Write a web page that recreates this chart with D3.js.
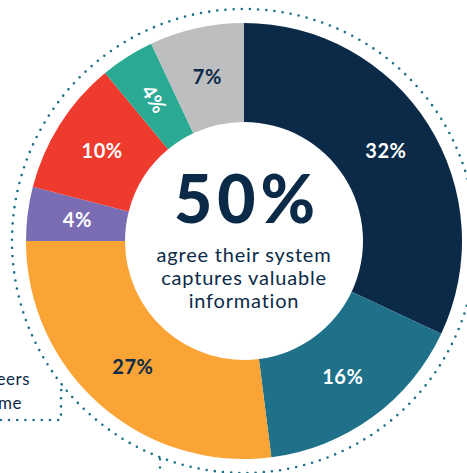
<!DOCTYPE html>
<html>
<head>
<meta charset="utf-8">
<script src="https://cdn.jsdelivr.net/npm/d3@7"></script>
<style>
  html, body { margin: 0; padding: 0; background: #fff; }
  svg { display: block; font-family: Lato, "Open Sans", sans-serif; }
</style>
</head>
<body>
<script>
//chart data
var values = [32, 16, 27, 4, 10, 4, 7];
var labels = ["32%", "16%", "27%", "4%", "10%", "4%", "7%"];
var colors = ["#0b2a47", "#1e7189", "#f9a435", "#7b6db3", "#ef3a2e", "#2aa993", "#bdbec0"];
var labelColors = ["#fff", "#fff", "#0b2a47", "#fff", "#fff", "#fff", "#0b2a47"];
var rotated = [false, false, false, false, false, true, false];
var centerBig = "50%";
var centerLines = ["agree their system", "captures valuable", "information"];
var sideLines = ["eers", "me"];

var width = 467,
	height = 473;

var cx = 244, cy = 241,
	outerR = 218, innerR = 119,
	ringR = 232;

var navy = "#0b2a47",
	dotColor = "#1e6f86";

var svg = d3.select("body")
	.append("svg")
	.attr("width", width)
	.attr("height", height);

//dotted line style
var dotted = function(sel){
	return sel.attr("fill", "none")
		.attr("stroke", dotColor)
		.attr("stroke-width", 2.6)
		.attr("stroke-linecap", "round")
		.attr("stroke-dasharray", "0 8.2");
};

//bracket on the left, meeting the ring
var leftX = cx - Math.sqrt(ringR * ringR - Math.pow(390 - cy, 2));
svg.append("path")
	.attr("d", d3.line()([[leftX - 5, 390], [61, 397], [61, 420], [0, 420]]))
	.call(dotted);

//drop line at the bottom
var bottomY = cy + Math.sqrt(ringR * ringR - Math.pow(160 - cx, 2));
svg.append("path")
	.attr("d", d3.line()([[160, bottomY + 2], [160, height + 4]]))
	.call(dotted);

//dotted outer ring
svg.append("circle")
	.attr("cx", cx)
	.attr("cy", cy)
	.attr("r", ringR)
	.call(dotted);

var g = svg.append("g")
	.attr("transform", "translate(" + cx + "," + cy + ")");

var pie = d3.pie().sort(null).value(function(d){ return d; });
var arcs = pie(values);

var arc = d3.arc()
	.innerRadius(innerR)
	.outerRadius(outerR);

var labelArc = d3.arc()
	.innerRadius(168)
	.outerRadius(168);

g.selectAll(".slice")
	.data(arcs)
	.enter()
	.append("path")
	.attr("class", "slice")
	.attr("d", arc)
	.attr("fill", function(d, i){ return colors[i]; });

g.selectAll(".lbl")
	.data(arcs)
	.enter()
	.append("text")
	.attr("class", "lbl")
	.attr("transform", function(d, i){
		var c = labelArc.centroid(d);
		var a = (d.startAngle + d.endAngle) / 2 * 180 / Math.PI;
		var rot = rotated[i] ? a - 270 : 0; //read along the radius
		return "translate(" + c[0] + "," + c[1] + ") rotate(" + rot + ")";
	})
	.attr("text-anchor", "middle")
	.attr("dy", "0.36em")
	.attr("font-size", 20)
	.attr("font-weight", 700)
	.attr("letter-spacing", 0.5)
	.attr("fill", function(d, i){ return labelColors[i]; })
	.text(function(d, i){ return labels[i]; });

//centre text
g.append("text")
	.attr("text-anchor", "middle")
	.attr("x", 3)
	.attr("y", -18)
	.attr("font-size", 66)
	.attr("font-weight", 900)
	.attr("letter-spacing", 5)
	.attr("fill", navy)
	.text(centerBig);

g.selectAll(".sub")
	.data(centerLines)
	.enter()
	.append("text")
	.attr("class", "sub")
	.attr("text-anchor", "middle")
	.attr("y", function(d, i){ return 21 + i * 23; })
	.attr("font-size", 20)
	.attr("letter-spacing", 0.8)
	.attr("fill", navy)
	.text(function(d){ return d; });

//cropped side note
svg.selectAll(".side")
	.data(sideLines)
	.enter()
	.append("text")
	.attr("class", "side")
	.attr("text-anchor", "end")
	.attr("x", function(d, i){ return i === 0 ? 30 : 22; })
	.attr("y", function(d, i){ return 385 + i * 24; })
	.attr("font-size", 17)
	.attr("letter-spacing", 0.5)
	.attr("fill", navy)
	.text(function(d){ return d; });
</script>
</body>
</html>
